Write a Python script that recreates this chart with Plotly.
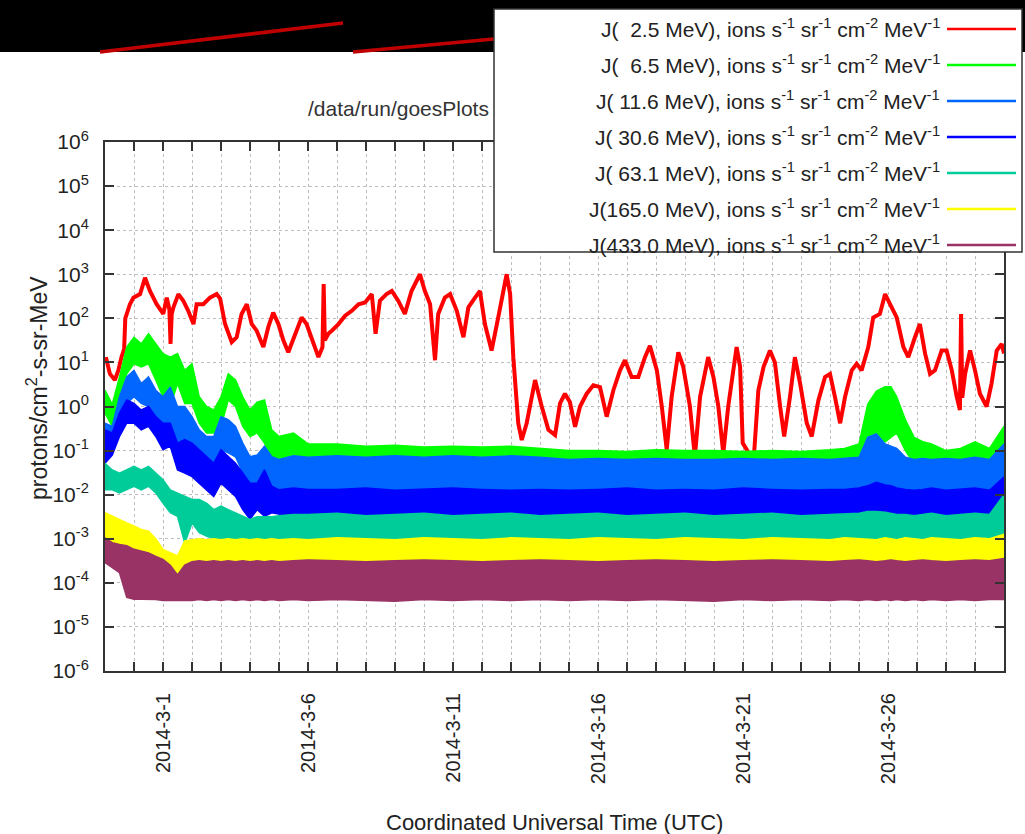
import numpy as np
import pandas as pd
import plotly.graph_objects as go

START = pd.Timestamp("2014-02-27")
END = pd.Timestamp("2014-03-30")

# ---------------- data (days since START, log10 of flux) ----------------
red_days = [0.03, 0.17, 0.34, 0.46, 0.57, 0.66, 0.70, 0.86, 0.98, 1.21, 1.38, 1.55, 1.78, 2.01,
            2.13, 2.22, 2.26, 2.30, 2.36, 2.53, 2.70, 2.87, 3.05, 3.16, 3.39, 3.62, 3.85, 3.97,
            4.14, 4.37, 4.54, 4.71, 4.89, 5.06, 5.23, 5.46, 5.63, 5.80, 5.98, 6.15, 6.32, 6.55,
            6.78, 6.95, 7.18, 7.36, 7.50, 7.54, 7.58, 7.70, 7.82, 8.05, 8.28, 8.51, 8.74, 8.97,
            9.20, 9.33, 9.48, 9.71, 9.89, 10.11, 10.34, 10.57, 10.86, 11.03, 11.21, 11.38, 11.49,
            11.72, 11.90, 12.13, 12.36, 12.53, 12.76, 12.93, 13.10, 13.33, 13.56, 13.85, 13.97,
            14.08, 14.25, 14.37, 14.54, 14.83, 15.06, 15.29, 15.52, 15.69, 15.86, 16.03, 16.21,
            16.38, 16.61, 16.84, 17.07, 17.30, 17.53, 17.76, 17.93, 18.16, 18.39, 18.62, 18.79,
            19.03, 19.20, 19.37, 19.54, 19.77, 19.94, 20.17, 20.34, 20.52, 20.80, 20.98, 21.15,
            21.32, 21.49, 21.78, 21.90, 21.99, 22.13, 22.36, 22.53, 22.71, 22.93, 23.10, 23.28,
            23.42, 23.62, 23.79, 23.97, 24.20, 24.37, 24.60, 24.83, 25.00, 25.17, 25.35, 25.52,
            25.75, 25.92, 26.09, 26.32, 26.49, 26.72, 26.90, 27.07, 27.30, 27.53, 27.70, 27.93,
            28.10, 28.28, 28.45, 28.62, 28.85, 29.02, 29.20, 29.37, 29.48, 29.52, 29.56, 29.66,
            29.83, 30.00, 30.17, 30.40, 30.57, 30.75, 30.92, 31.00]
red_log10 = [1.12, 0.74, 0.6, 0.82, 1.12, 1.3, 2.0, 2.32, 2.47, 2.55, 2.92, 2.62, 2.32, 2.1,
             2.47, 2.2, 1.42, 2.1, 2.25, 2.55, 2.4, 2.17, 1.87, 2.32, 2.32, 2.47, 2.55, 2.45,
             1.87, 1.46, 1.57, 2.1, 2.32, 1.87, 1.72, 1.35, 1.8, 2.13, 1.87, 1.5, 1.23, 1.65,
             2.02, 1.87, 1.42, 1.12, 1.35, 2.78, 1.5, 1.65, 1.72, 1.87, 2.06, 2.17, 2.32, 2.36,
             2.55, 1.65, 2.4, 2.55, 2.62, 2.4, 2.1, 2.62, 3.0, 2.62, 2.32, 1.05, 2.1,
             2.47, 2.55, 2.17, 1.57, 2.25, 2.47, 2.62, 1.87, 1.27, 2.02, 3.0, 2.55,
             1.12, -0.38, -0.76, -0.38, 0.6, 0.0, -0.53, -0.65, 0.07, 0.29, 0.1, -0.46,
             0.0, 0.29, 0.48, 0.44, -0.23, 0.37, 0.82, 1.05, 0.67, 0.67, 1.12, 1.38,
             0.82, 0.0, -0.98, 0.22, 1.23, 0.9, 0.0, -1.14, 0.22, 1.12, 0.67, 0.0,
             -1.06, 0.0, 1.35, 0.9, -0.83, -0.98, -1.29, 0.37, 0.9, 1.27, 1.0, 0.0,
             -0.68, 0.22, 1.12, 0.52, -0.38, -0.68, 0.14, 0.67, 0.74, 0.22, -0.38, 0.22,
             0.82, 0.97, 0.82, 1.35, 2.02, 2.1, 2.55, 2.32, 2.02, 1.35, 1.12, 1.57,
             1.87, 1.2, 0.74, 0.82, 1.27, 1.27, 0.82, 0.22, -0.08, 2.1, 0.2, 0.74,
             1.27, 0.82, 0.29, 0.0, 0.52, 1.27, 1.42, 1.2]

band_days = [0, 0.25, 0.5, 0.75, 1.0, 1.25, 1.5, 1.75, 2.0, 2.25, 2.5, 2.75, 3.0, 3.25, 3.5,
             3.75, 4.0, 4.25, 4.5, 4.75, 5.0, 5.25, 5.5, 5.75, 6.0,
             6.5, 7, 8, 9, 10, 11, 12, 13, 14, 15, 16, 17, 18, 19, 20, 21, 22, 23, 24, 25,
             25.5, 26.0, 26.3, 26.6, 26.9, 27.1, 27.3, 27.6, 27.9, 28.2, 28.5, 29, 29.5, 30,
             30.5, 31]

green_hi = [0.37, 0.05, 0.67, 1.35, 1.57, 1.42, 1.65, 1.42, 1.2, 1.12, 1.2, 0.82, 0.97, 0.22,
            0.0, -0.08, 0.22, 0.74, 0.6, 0.22, -0.08, 0.1, 0.15, -0.53, -0.68,
            -0.6, -0.85, -0.85, -0.9, -0.88, -0.92, -0.9, -0.92, -0.9, -0.95, -1.0, -1.0, -1.02,
            -0.98, -1.0, -1.0, -1.02, -1.0, -1.02, -0.98, -0.95, -0.85, 0.05, 0.35, 0.45, 0.45,
            0.22, -0.3, -0.7, -0.8, -0.85, -1.0, -0.95, -0.8, -0.95, -0.45]
green_lo = [-0.15, -0.45, 0.15, 0.74, 0.97, 0.9, 0.97, 0.6, 0.22, 0.0, 0.52, 0.07, 0.07, -0.38,
            -0.6, -0.6, -0.45, 0.15, 0.0, -0.45, -0.68, -0.6, -0.83, -1.14, -1.3,
            -1.4, -1.5, -1.55, -1.6, -1.55, -1.6, -1.6, -1.55, -1.6, -1.6, -1.6, -1.55, -1.6,
            -1.6, -1.6, -1.55, -1.6, -1.6, -1.6, -1.55, -1.6, -1.4, -0.9, -0.7, -0.8, -0.7,
            -0.6, -1.0, -1.3, -1.5, -1.6, -1.6, -1.6, -1.55, -1.6, -1.3]

lblue_hi = [-0.38, -0.45, 0.22, 0.67, 0.82, 0.52, 0.67, 0.37, 0.22, 0.44, 0.0, 0.0, -0.23, -0.53,
            -0.68, -0.68, -0.23, -0.3, -0.45, -0.83, -1.14, -1.1, -0.9, -1.14, -1.2,
            -1.12, -1.15, -1.12, -1.15, -1.12, -1.15, -1.12, -1.15, -1.12, -1.15, -1.2, -1.18,
            -1.2, -1.18, -1.2, -1.2, -1.18, -1.2, -1.18, -1.2, -1.18, -1.15, -0.7, -0.62, -0.85,
            -0.9, -0.95, -1.15, -1.2, -1.18, -1.2, -1.18, -1.2, -1.15, -1.2, -0.85]
lblue_lo = [-0.83, -0.98, -0.23, 0.07, 0.22, 0.07, 0.0, -0.23, -0.83, -0.53, -0.83, -0.8, -1.14,
            -1.3, -1.36, -1.44, -0.98, -1.05, -1.14, -1.5, -1.74, -1.89, -1.7, -1.89, -2.0,
            -2.05, -2.1, -2.1, -2.15, -2.1, -2.15, -2.1, -2.15, -2.1, -2.15, -2.1, -2.15, -2.1,
            -2.15, -2.1, -2.15, -2.1, -2.15, -2.1, -2.15, -2.1, -2.1, -2.0, -1.95, -1.95, -2.0,
            -2.05, -2.1, -2.1, -2.15, -2.1, -2.15, -2.1, -2.15, -2.1, -2.0]

dblue_hi = [-0.53, -0.6, -0.15, 0.15, 0.07, -0.08, 0.0, -0.23, -0.38, -0.38, -0.83, -0.75, -0.83,
            -0.98, -1.14, -1.29, -0.98, -1.14, -1.29, -1.51, -1.74, -1.74, -1.44, -1.81, -1.89,
            -1.85, -1.88, -1.88, -1.85, -1.9, -1.88, -1.85, -1.88, -1.9, -1.88, -1.9, -1.88,
            -1.85, -1.9, -1.88, -1.9, -1.85, -1.88, -1.9, -1.88, -1.88, -1.85, -1.8, -1.72,
            -1.78, -1.8, -1.85, -1.88, -1.9, -1.88, -1.85, -1.9, -1.88, -1.85, -1.9, -1.6]
dblue_lo = [-1.29, -1.1, -0.68, -0.38, -0.38, -0.53, -0.45, -0.68, -0.98, -0.9, -1.44, -1.51,
            -1.59, -1.74, -1.89, -2.04, -1.74, -1.89, -2.04, -2.34, -2.56, -2.34, -2.49, -2.41,
            -2.45,
            -2.5, -2.55, -2.6, -2.6, -2.55, -2.6, -2.6, -2.55, -2.6, -2.6, -2.55, -2.6, -2.6,
            -2.55, -2.6, -2.6, -2.55, -2.6, -2.6, -2.55, -2.6, -2.6, -2.5, -2.45, -2.45, -2.5,
            -2.55, -2.6, -2.6, -2.55, -2.6, -2.6, -2.55, -2.6, -2.6, -2.5]

teal_hi = [-1.29, -1.44, -1.51, -1.44, -1.36, -1.44, -1.36, -1.51, -1.66, -1.89, -1.96, -2.04,
           -2.11, -2.11, -2.19, -2.34, -2.26, -2.34, -2.41, -2.49, -2.56, -2.5, -2.5, -2.5, -2.48,
           -2.45, -2.45, -2.42, -2.48, -2.45, -2.42, -2.48, -2.45, -2.42, -2.48, -2.45, -2.42,
           -2.48, -2.45, -2.42, -2.48, -2.45, -2.42, -2.48, -2.45, -2.45, -2.42, -2.38, -2.38,
           -2.4, -2.42, -2.45, -2.45, -2.48, -2.45, -2.42, -2.48, -2.45, -2.42, -2.45, -2.0]
teal_lo = [-1.89, -1.89, -1.96, -1.89, -1.81, -1.89, -1.81, -1.96, -2.19, -2.41, -2.49, -3.1,
           -2.64, -2.86, -2.94, -3.0, -3.0, -3.0, -3.08, -3.08, -3.1, -3.15, -3.17, -3.2, -3.2,
           -3.2, -3.22, -3.2, -3.22, -3.2, -3.22, -3.2, -3.22, -3.2, -3.22, -3.2, -3.22, -3.2,
           -3.22, -3.2, -3.22, -3.2, -3.22, -3.2, -3.22, -3.2, -3.22, -3.2, -3.22, -3.2, -3.22,
           -3.2, -3.22, -3.2, -3.22, -3.2, -3.22, -3.2, -3.22, -3.2, -3.1]

yellow_hi = [-2.41, -2.49, -2.56, -2.64, -2.71, -2.79, -2.83, -3.0, -3.24, -3.32, -3.39, -3.05,
             -3.02, -3.0, -3.02, -3.0, -3.02, -3.0, -3.02, -3.0, -3.02, -3.0, -3.02, -3.0, -3.02,
             -3.0, -3.02, -2.98, -3.0, -3.02, -2.98, -3.0, -3.02, -2.98, -3.0, -3.02, -2.98,
             -3.0, -3.02, -2.98, -3.0, -3.02, -2.98, -3.0, -3.02, -2.98, -3.0, -3.0, -3.02,
             -2.98, -3.0, -3.02, -2.98, -3.0, -3.02, -2.98, -3.0, -3.02, -2.98, -3.0, -2.9]
yellow_lo = [-3.0, -3.08, -3.17, -3.2, -3.24, -3.32, -3.39, -3.54, -3.62, -3.77, -3.85, -3.7,
             -3.62, -3.65, -3.65, -3.66, -3.65, -3.66, -3.65, -3.66, -3.65, -3.66, -3.65, -3.66,
             -3.65, -3.66, -3.65, -3.66, -3.65, -3.66, -3.65, -3.66, -3.65, -3.66, -3.65, -3.66,
             -3.65, -3.66, -3.65, -3.66, -3.65, -3.66, -3.65, -3.66, -3.65, -3.66, -3.65, -3.66,
             -3.65, -3.66, -3.65, -3.66, -3.65, -3.66, -3.65, -3.66, -3.65, -3.66, -3.65, -3.66,
             -3.6]

purple_hi = [-2.98, -3.09, -3.13, -3.16, -3.24, -3.28, -3.32, -3.4, -3.47, -3.6, -3.82, -3.6,
             -3.52, -3.5, -3.52, -3.5, -3.52, -3.5, -3.52, -3.5, -3.52, -3.5, -3.52, -3.5, -3.52,
             -3.5, -3.48, -3.5, -3.52, -3.5, -3.48, -3.5, -3.52, -3.5, -3.48, -3.5, -3.52, -3.5,
             -3.48, -3.5, -3.52, -3.5, -3.48, -3.5, -3.52, -3.5, -3.48, -3.5, -3.52, -3.5, -3.48,
             -3.5, -3.52, -3.5, -3.48, -3.5, -3.52, -3.5, -3.48, -3.5, -3.45]
purple_lo = [-3.54, -3.66, -3.77, -4.33, -4.37, -4.37, -4.37, -4.38, -4.4, -4.4, -4.4, -4.4,
             -4.4, -4.38, -4.4, -4.38, -4.4, -4.38, -4.4, -4.38, -4.4, -4.38, -4.4, -4.38, -4.4,
             -4.38, -4.4, -4.38, -4.4, -4.42, -4.38, -4.4, -4.38, -4.4, -4.38, -4.4, -4.38, -4.4,
             -4.38, -4.4, -4.42, -4.38, -4.4, -4.38, -4.4, -4.38, -4.4, -4.38, -4.4, -4.38, -4.4,
             -4.38, -4.4, -4.38, -4.4, -4.38, -4.4, -4.38, -4.4, -4.38, -4.38]

energies = ["\u00a0\u00a02.5", "\u00a0\u00a06.5", "\u00a011.6", "\u00a030.6", "\u00a063.1",
            "165.0", "433.0"]
colors = ["#ff0000", "#00ff00", "#0066ff", "#0000ff", "#00cc99", "#ffff00", "#993366"]

tick_dates = ["2014-03-01", "2014-03-06", "2014-03-11", "2014-03-16", "2014-03-21", "2014-03-26"]
tick_labels = ["2014-3-1", "2014-3-6", "2014-3-11", "2014-3-16", "2014-3-21", "2014-3-26"]
y_exponents = [-6, -5, -4, -3, -2, -1, 0, 1, 2, 3, 4, 5, 6]

title_text = "/data/run/goesPlots"
x_title = "Coordinated Universal Time (UTC)"
y_title = "protons/cm<sup>2</sup>-s-sr-MeV"

# ---------------- figure ----------------
FONT = "Liberation Sans, Arial, Helvetica, sans-serif"


def to_dates(days):
    return [START + pd.Timedelta(days=float(d)) for d in days]


fig = go.Figure()
fig.add_trace(go.Scatter(x=to_dates(red_days), y=10 ** np.array(red_log10), mode="lines",
                         line=dict(color=colors[0], width=4), hoverinfo="skip"))

bands = [(green_hi, green_lo), (lblue_hi, lblue_lo), (dblue_hi, dblue_lo),
         (teal_hi, teal_lo), (yellow_hi, yellow_lo), (purple_hi, purple_lo)]
bx = to_dates(band_days)
for (hi, lo), col in zip(bands, colors[1:]):
    xs = bx + bx[::-1]
    ys = list(10 ** np.array(hi)) + list(10 ** np.array(lo))[::-1]
    fig.add_trace(go.Scatter(x=xs, y=ys, mode="lines", fill="toself", fillcolor=col,
                             line=dict(color=col, width=1.5), hoverinfo="skip"))

L, R, T, B = 105, 1004, 142, 671
W, H = 1025, 834


def px(x):
    return (x - L) / (R - L)


def py(y):
    return (B - y) / (B - T)


shapes = []
# dark banner at the top of the page
shapes.append(dict(type="rect", xref="paper", yref="paper", x0=px(-5), x1=px(W + 5),
                   y0=py(52), y1=py(-5), fillcolor="black", line=dict(width=0), layer="above"))
shapes.append(dict(type="line", xref="paper", yref="paper", x0=px(100), y0=py(52), x1=px(343),
                   y1=py(23), line=dict(color="#c00000", width=3.5), layer="above"))
shapes.append(dict(type="line", xref="paper", yref="paper", x0=px(353), y0=py(52), x1=px(494),
                   y1=py(39), line=dict(color="#c00000", width=3.5), layer="above"))
# legend box
shapes.append(dict(type="rect", xref="paper", yref="paper", x0=px(494), x1=px(1022),
                   y0=py(252), y1=py(9), fillcolor="white",
                   line=dict(color="#333", width=1.5), layer="above"))

annotations = []
row_y = [28, 64, 100, 136, 172, 208, 244]
for e, col, ry in zip(energies, colors, row_y):
    txt = ("J(" + e + " MeV), ions s<sup>-1</sup> sr<sup>-1</sup> cm<sup>-2</sup> "
           "MeV<sup>-1</sup>")
    annotations.append(dict(xref="paper", yref="paper", x=px(942), y=py(ry), xanchor="right",
                            yanchor="middle", text=txt, showarrow=False,
                            font=dict(size=21, color="#222", family=FONT)))
    shapes.append(dict(type="line", xref="paper", yref="paper", x0=px(947), x1=px(1016),
                       y0=py(ry + 1), y1=py(ry + 1), line=dict(color=col, width=2.5),
                       layer="above"))

annotations.append(dict(xref="paper", yref="paper", x=px(491), y=py(108), xanchor="right",
                        yanchor="middle", text=title_text, showarrow=False,
                        font=dict(size=21, color="#333", family=FONT)))
annotations.append(dict(xref="paper", yref="paper", x=0.5, y=py(822), xanchor="center",
                        yanchor="middle", text=x_title, showarrow=False,
                        font=dict(size=22, color="#222", family=FONT)))
annotations.append(dict(xref="paper", yref="paper", x=px(37), y=py(388), xanchor="center",
                        yanchor="middle", text=y_title, showarrow=False, textangle=-90,
                        font=dict(size=23, color="#222", family=FONT)))

GRID = "#bdbdbd"
fig.update_layout(
    width=W, height=H,
    margin=dict(l=L, r=W - R, t=T, b=H - B, pad=0),
    paper_bgcolor="white", plot_bgcolor="white",
    showlegend=False,
    font=dict(family=FONT, color="#222", size=20),
    shapes=shapes, annotations=annotations,
    xaxis=dict(type="date", range=[START, END], tickmode="array", tickvals=tick_dates,
               ticktext=tick_labels, tickangle=-90, ticks="inside", ticklen=9, tickwidth=1.5,
               tickcolor="#333", showgrid=True, gridcolor=GRID, griddash="dot", gridwidth=1,
               showline=True, linecolor="#333", linewidth=2, mirror="ticks", zeroline=False,
               tickfont=dict(size=20, family=FONT, color="#222"), ticklabelstandoff=12,
               minor=dict(dtick=86400000, tick0="2014-02-27", ticks="inside", ticklen=9,
                          tickwidth=1.5, tickcolor="#333", showgrid=True, gridcolor=GRID,
                          griddash="dot", gridwidth=1)),
    yaxis=dict(type="log", range=[-6, 6], tickmode="array",
               tickvals=[10.0 ** k for k in y_exponents],
               ticktext=["10<sup>%d</sup>" % k for k in y_exponents],
               ticks="inside", ticklen=9, tickwidth=1.5, tickcolor="#333",
               showgrid=True, gridcolor=GRID, griddash="dot", gridwidth=1,
               showline=True, linecolor="#333", linewidth=2, mirror="ticks", zeroline=False,
               tickfont=dict(size=21, family=FONT, color="#222"), ticklabelstandoff=10),
)

fig.write_html("out.html")
